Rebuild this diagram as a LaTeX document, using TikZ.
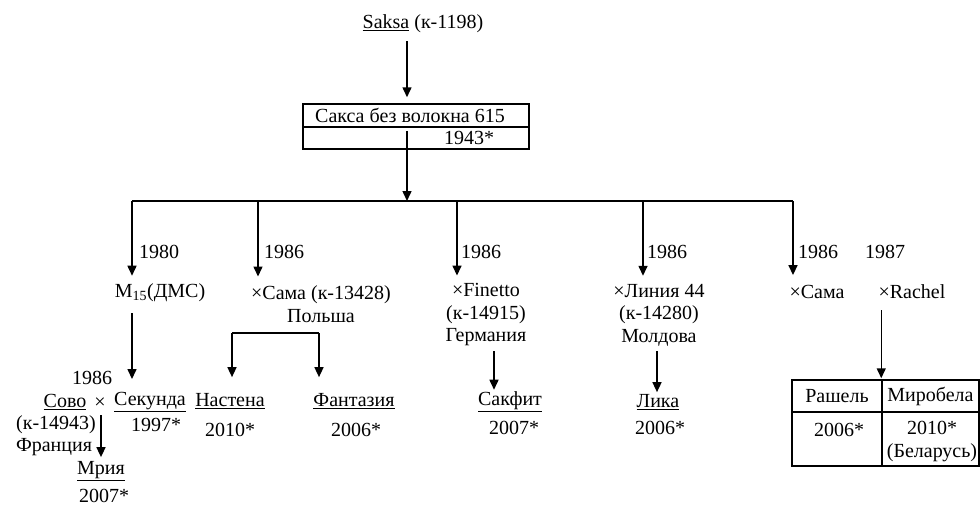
\documentclass[tikz,border=0pt]{standalone}
\usepackage{fontspec}
\setmainfont{Liberation Serif}
\usetikzlibrary{arrows.meta}
\begin{document}
\begin{tikzpicture}[x=1pt,y=-1pt,
  every node/.style={font=\fontsize{20}{22.5}\selectfont, inner sep=2pt},
  txt/.style={align=center},
  ln/.style={line width=1.5pt},
  arr/.style={line width=1.5pt,-{Triangle[width=9pt,length=10pt]}},
  cell/.style={draw,line width=1.5pt,inner sep=0pt}
]
\useasboundingbox (0,0) rectangle (980,506);

% top
\node (saksa) at (423,24) {\underline{Saksa} (к-1198)};
\node[cell,minimum width=226pt,minimum height=23pt] (box1) at (416,115.5) {};
\node (boxtxt) at (410,115.5) {Сакса без волокна 615};
\node[cell,minimum width=226pt,minimum height=22pt] (box2) at (416,138) {};
\node (y1943) at (469,138) {1943*};

\coordinate (bar0) at (407,201);
\coordinate (b1) at (132,201);
\coordinate (b2) at (258,201);
\coordinate (b3) at (457,201);
\coordinate (b4) at (643,201);
\coordinate (b5) at (793,201);

\draw[arr,shorten <=6pt,shorten >=6pt] (saksa.south -| bar0) -- (box1.north -| bar0);
\draw[arr,shorten <=3pt] (box1.south -| bar0) -- (bar0);
\draw[ln] (b1) -- (b5);

% years
\node[anchor=west] (y1980) at (137,252) {1980};
\node[anchor=west] (y1986a) at (262,252) {1986};
\node[anchor=west] (y1986b) at (459,252) {1986};
\node[anchor=west] (y1986c) at (645,252) {1986};
\node[anchor=west] (y1986d) at (796,252) {1986};
\node (y1987) at (885,252) {1987};

% level 2
\node (m15) at (160,293) {M\textsubscript{15}(ДМС)};
\node[txt] (sama1) at (321,304) {×Сама (к-13428)\\Польша};
\node[txt] (finetto) at (486,315) {×Finetto\\(к-14915)\\Германия};
\node[txt] (liniya) at (659,315) {×Линия 44\\(к-14280)\\Молдова};
\node (sama2) at (817,292) {×Сама};
\node (rachel) at (912,292) {×Rachel};

\draw[arr,shorten >=6pt] (b1) -- (m15.north -| b1);
\draw[arr,shorten >=7pt] (b2) -- (sama1.north -| b2);
\draw[arr,shorten >=6pt] (b3) -- (finetto.north -| b3);
\draw[arr,shorten >=6pt] (b4) -- (liniya.north -| b4);
\draw[arr,shorten >=8pt] (b5) -- (sama2.north -| b5);

% level 3 left
\node[inner sep=0.5pt] (y1986e) at (92,378) {1986};
\node[inner sep=0.5pt] (sovo) at (65,402) {\underline{Сово}};
\node[inner sep=0.5pt] (cross) at (100,403) {×};
\node (sekunda) at (150,402) {\underline{Секунда}};
\node (k14943) at (56,425) {(к-14943)};
\node (francia) at (54,447) {Франция};
\node (y1997) at (156,425) {1997*};
\node (mriya) at (101,471) {\underline{Мрия}};
\node (y2007a) at (104,496) {2007*};

\draw[arr,shorten <=9pt,shorten >=11pt] (m15.south -| b1) -- (sekunda.north -| b1);
\draw[arr,shorten <=5pt,shorten >=2pt] (sovo.south -| mriya.north) -- (mriya.north);

% Sama branch
\node (nastena) at (230,401) {\underline{Настена}};
\node (y2010a) at (230,430) {2010*};
\node (fantaziya) at (354,401) {\underline{Фантазия}};
\node (y2006a) at (356,430) {2006*};
\coordinate (bl) at (232,333);
\coordinate (br) at (319,333);
\draw[ln] (bl) -- (br);
\draw[arr,shorten >=14pt] (bl) -- (nastena.north -| bl);
\draw[arr,shorten >=14pt] (br) -- (fantaziya.north -| br);

% Finetto / Liniya
\node (sakfit) at (510,402) {\underline{Сакфит}};
\node (y2007b) at (514,428) {2007*};
\node (lika) at (658,402) {\underline{Лика}};
\node (y2006b) at (660,428) {2006*};
\coordinate (xg) at (494,350);
\coordinate (xl) at (657,350);
\draw[arr,shorten <=3pt] (finetto.south -| xg) -- (sakfit.north -| xg);
\draw[arr,shorten <=3pt] (liniya.south -| xl) -- (lika.north -| xl);

% table
\node[cell,minimum width=90pt,minimum height=32pt] (c11) at (837,396) {Рашель};
\node[cell,minimum width=97pt,minimum height=32pt] (c12) at (930.5,396) {Миробела};
\node[cell,minimum width=90pt,minimum height=54pt] (c21) at (837,439) {};
\node[cell,minimum width=97pt,minimum height=54pt] (c22) at (930.5,439) {};
\node (t21) at (839,430) {2006*};
\node[txt] (t22) at (932,441.5) {2010*\\(Беларусь)};
\draw[arr,shorten <=9pt,shorten >=1pt] (rachel.south -| c12.north west) -- (c12.north west);
\end{tikzpicture}
\end{document}
